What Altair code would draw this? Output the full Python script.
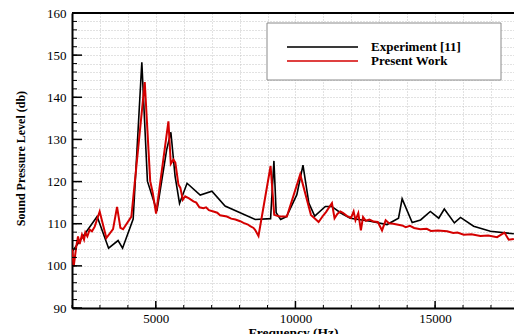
import altair as alt
import pandas as pd

# ---- data ----
series_names = ["Experiment [11]", "Present Work"]

exp_f = [2030, 2450, 2900, 3310, 3650, 3810, 4190, 4500, 4700, 5040, 5390, 5540, 5690, 5850,
         6120, 6590, 7010, 7480, 8560, 9110, 9230, 9310, 9470, 9680, 10050, 10270, 10480,
         10690, 11070, 11300, 11610, 11960, 12680, 13280, 13690, 13820, 14180, 14480, 14830,
         15130, 15330, 15690, 15910, 16380, 16980, 17820]
exp_v = [103.6, 107.5, 111.7, 104.2, 106.0, 104.2, 111.1, 148.3, 120.1, 113.0, 127.6, 131.7,
         121.3, 114.8, 119.6, 116.8, 117.7, 114.2, 111.0, 111.2, 124.9, 112.6, 111.0, 111.7,
         116.9, 123.9, 114.9, 111.8, 114.1, 114.1, 112.6, 111.3, 110.6, 109.8, 111.3, 115.9,
         110.3, 110.9, 112.9, 111.3, 113.5, 110.2, 111.5, 109.4, 108.2, 107.6]

pw_f = [2010, 2060, 2155, 2215, 2275, 2358, 2430, 2478, 2550, 2633, 2717, 2813, 2991, 3230,
        3470, 3613, 3733, 3828, 4126, 4377, 4605, 4800, 4892, 5010, 5452, 5537, 5631, 5700,
        5810, 5880, 5967, 6050, 6190, 6348, 6450, 6560, 6706, 6800, 6900, 7064, 7200, 7300,
        7544, 7700, 7850, 8021, 8140, 8300, 8380, 8499, 8560, 8677, 9110, 9240, 9430, 9693,
        10171, 10555, 10829, 11000, 11100, 11307, 11400, 11500, 11605, 11700, 11850, 11990,
        12083, 12150, 12250, 12343, 12420, 12520, 12650, 12800, 12950, 13100, 13230, 13350,
        13500, 13816, 13950, 14100, 14250, 14473, 14700, 14850, 15100, 15430, 15650, 15800,
        16026, 16300, 16622, 16900, 17220, 17482, 17636, 17820]
pw_v = [104.0, 99.8, 104.7, 107.0, 105.2, 107.4, 106.2, 107.9, 107.0, 108.6, 108.2, 109.3,
        112.9, 106.6, 108.7, 114.0, 109.0, 108.7, 111.7, 128.4, 143.6, 120.1, 117.3, 112.4,
        134.3, 124.2, 125.2, 124.5, 119.3, 118.5, 115.7, 116.5, 116.0, 115.3, 115.0, 113.9,
        113.7, 113.9, 113.2, 112.9, 112.6, 112.0, 111.7, 111.2, 111.0, 110.6, 110.2, 109.8,
        109.4, 109.0, 108.5, 107.1, 123.7, 112.1, 111.7, 111.7, 121.7, 112.1, 110.4, 112.0,
        112.8, 114.9, 111.3, 112.3, 112.9, 112.6, 111.8, 111.4, 112.9, 110.8, 112.5, 108.4,
        111.6, 110.7, 111.0, 110.5, 110.4, 108.4, 110.8, 110.1, 110.0, 109.6, 109.2, 109.5,
        109.0, 108.7, 108.8, 108.3, 108.4, 108.2, 107.8, 107.9, 107.4, 107.5, 107.1, 107.2,
        106.8, 107.9, 106.2, 106.4]

x_grid = list(range(2000, 18001, 1000))
y_grid = list(range(90, 161, 2))
x_major = [5000, 10000, 15000]
y_major = list(range(90, 161, 10))

FONT = "Liberation Serif"
W, H = 442, 295

exp_df = pd.DataFrame({"f": exp_f, "v": exp_v})
pw_df = pd.DataFrame({"f": pw_f, "v": pw_v})

xscale = alt.Scale(domain=[2000, 17825], nice=False, zero=False)
yscale = alt.Scale(domain=[90, 160], nice=False, zero=False)

xaxis = alt.Axis(values=x_grid, labelExpr="datum.value % 5000 === 0 ? datum.label : ''",
                 format="d", ticks=False, tickSize=0, labelPadding=4, labelFont=FONT,
                 labelFontSize=13, labelColor="black", title="Frequency (Hz)",
                 titleFont=FONT, titleFontSize=13.5, titleFontWeight="bold", titleColor="black",
                 titleBaseline="top", titleY=17.5, grid=True, gridColor="#c4c4c4",
                 gridDash=[1, 2], domainColor="black", domainWidth=2)
yaxis = alt.Axis(values=y_grid, labelExpr="datum.value % 10 === 0 ? datum.label : ''",
                 ticks=False, tickSize=0, labelPadding=6, labelFont=FONT, labelFontSize=13,
                 labelColor="black", title="Sound Pressure Level (db)", titleFont=FONT,
                 titleFontSize=12, titleFontWeight="bold", titleColor="black",
                 titleAngle=270, titleAlign="center", titleBaseline="middle",
                 titleX=-52, titleY=145, grid=True, gridColor="#c4c4c4", gridDash=[1, 2],
                 domainColor="black", domainWidth=2)

X = alt.X("f:Q", scale=xscale, axis=xaxis)
Y = alt.Y("v:Q", scale=yscale, axis=yaxis)

exp_line = alt.Chart(exp_df).mark_line(color="black", strokeWidth=1.6, clip=True).encode(x=X, y=Y)
pw_line = alt.Chart(pw_df).mark_line(color="#d40000", strokeWidth=2, clip=True).encode(x=X, y=Y)

# inward tick marks
xmaj = alt.Chart(pd.DataFrame({"f": x_major})).mark_rule(color="black", strokeWidth=1.5).encode(
    x=X, y=alt.value(H), y2=alt.value(H - 7))
xmin = alt.Chart(pd.DataFrame({"f": x_grid[:-1]})).mark_rule(color="black", strokeWidth=1).encode(
    x=X, y=alt.value(H), y2=alt.value(H - 3))
ymaj = alt.Chart(pd.DataFrame({"v": y_major})).mark_rule(color="black", strokeWidth=1.5).encode(
    y=Y, x=alt.value(0), x2=alt.value(10))
ymin = alt.Chart(pd.DataFrame({"v": y_grid})).mark_rule(color="black", strokeWidth=1).encode(
    y=Y, x=alt.value(0), x2=alt.value(5))

top_frame = alt.Chart(pd.DataFrame({"a": [0]})).mark_rule(color="black", strokeWidth=2).encode(
    x=alt.value(0), x2=alt.value(W), y=alt.value(0))

# legend box
leg_df = pd.DataFrame({"name": series_names})
leg_box = alt.Chart(pd.DataFrame({"a": [0]})).mark_rect(
    fill="white", stroke="#8a8a8a", strokeWidth=1).encode(
    x=alt.value(195), x2=alt.value(429), y=alt.value(10), y2=alt.value(67))
leg_l1 = alt.Chart(pd.DataFrame({"a": [0]})).mark_rule(color="#3a3a3a", strokeWidth=2).encode(
    x=alt.value(215), x2=alt.value(286), y=alt.value(34))
leg_l2 = alt.Chart(pd.DataFrame({"a": [0]})).mark_rule(color="#d40000", strokeWidth=1.5).encode(
    x=alt.value(215), x2=alt.value(286), y=alt.value(48))
leg_t1 = alt.Chart(leg_df.iloc[[0]]).mark_text(
    font=FONT, fontSize=13, fontWeight="bold", align="left", baseline="middle",
    color="black").encode(text="name:N", x=alt.value(299), y=alt.value(34))
leg_t2 = alt.Chart(leg_df.iloc[[1]]).mark_text(
    font=FONT, fontSize=13, fontWeight="bold", align="left", baseline="middle",
    color="black").encode(text="name:N", x=alt.value(299), y=alt.value(48))

chart = alt.layer(
    exp_line, pw_line, xmaj, xmin, ymaj, ymin, top_frame,
    leg_box, leg_l1, leg_l2, leg_t1, leg_t2,
).properties(
    width=W, height=H,
    padding={"left": 72, "top": 13, "right": 0, "bottom": 26},
    autosize=alt.AutoSizeParams(type="none"),
    background="white",
).configure_view(stroke=None)

chart.save("out.html", embed_options={"renderer": "svg", "actions": False})
